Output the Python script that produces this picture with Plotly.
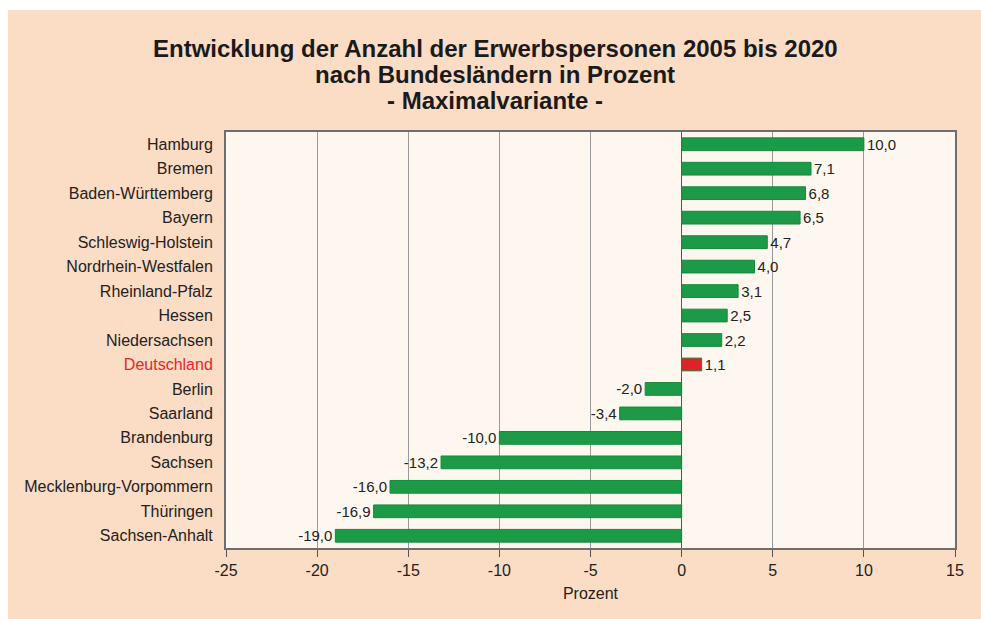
import plotly.graph_objects as go

laender = ["Hamburg", "Bremen", "Baden-Württemberg", "Bayern", "Schleswig-Holstein",
           "Nordrhein-Westfalen", "Rheinland-Pfalz", "Hessen", "Niedersachsen",
           "Deutschland", "Berlin", "Saarland", "Brandenburg", "Sachsen",
           "Mecklenburg-Vorpommern", "Thüringen", "Sachsen-Anhalt"]
werte = [10.0, 7.1, 6.8, 6.5, 4.7, 4.0, 3.1, 2.5, 2.2, 1.1, -2.0, -3.4, -10.0,
         -13.2, -16.0, -16.9, -19.0]
x_ticks = [-25, -20, -15, -10, -5, 0, 5, 10, 15]
title_lines = ["Entwicklung der Anzahl der Erwerbspersonen 2005 bis 2020",
               "nach Bundesländern in Prozent",
               "- Maximalvariante -"]

GREEN = "#1c9a48"
RED = "#e0202a"
colors = [RED if l == "Deutschland" else GREEN for l in laender]
ticktext = ["<span style='color:#e8262a'>%s</span>" % l if l == "Deutschland" else l
            for l in laender]

W, H = 981, 619
L, T = 226, 132
R = 981 - 955
B = 619 - 548
pw, ph = W - L - R, H - T - B
FONT = "Liberation Sans, Arial"


def px_x(px):
    return (px - L) / pw


def px_y(py):
    return (H - B - py) / ph


fig = go.Figure()
fig.add_trace(go.Bar(
    y=laender, x=werte, orientation="h",
    marker=dict(color=colors, line=dict(color="#138a3c", width=1)),
    texttemplate="%{x:.1f}",
    textposition="outside",
    constraintext="none",
    textfont=dict(size=15, color="#222222", family=FONT),
    cliponaxis=False,
    width=0.52,
))

shapes = [
    # white page margin at the top and the left of the peach sheet
    dict(type="rect", xref="paper", yref="paper",
         x0=px_x(-5), x1=px_x(W + 5), y0=px_y(10), y1=px_y(-5),
         fillcolor="white", line=dict(width=0), layer="below"),
    dict(type="rect", xref="paper", yref="paper",
         x0=px_x(-5), x1=px_x(8), y0=px_y(H + 5), y1=px_y(-5),
         fillcolor="white", line=dict(width=0), layer="below"),
]

annotations = []
for line, yy in zip(title_lines, [48, 74, 101]):
    annotations.append(dict(
        text="<b>%s</b>" % line, xref="paper", yref="paper",
        x=px_x(495), y=px_y(yy), xanchor="center", yanchor="middle",
        showarrow=False,
        font=dict(family=FONT, size=24, color="#1a1a1a"),
    ))

fig.update_layout(
    width=W, height=H,
    margin=dict(l=L, r=R, t=T, b=B, pad=0),
    paper_bgcolor="#fbdcc5",
    plot_bgcolor="#fdf7f0",
    separators=",.",
    font=dict(family=FONT, size=16, color="#222222"),
    showlegend=False,
    shapes=shapes,
    annotations=annotations,
    xaxis=dict(
        range=[-25, 15], tickvals=x_ticks, ticktext=[str(v) for v in x_ticks],
        showgrid=True, gridcolor="#9a9a9a", gridwidth=1,
        zeroline=True, zerolinecolor="#555555", zerolinewidth=1,
        showline=True, linecolor="#6e6e6e", linewidth=2, mirror=True,
        ticks="outside", ticklen=7, tickcolor="#555555", tickwidth=1,
        tickfont=dict(size=16),
        title=dict(text="Prozent", font=dict(size=16), standoff=10),
    ),
    yaxis=dict(
        categoryorder="array", categoryarray=laender, autorange="reversed",
        tickvals=laender, ticktext=ticktext,
        showline=True, linecolor="#6e6e6e", linewidth=2, mirror=True,
        showgrid=False, ticks="", ticklabelstandoff=8,
        tickfont=dict(size=16),
    ),
    bargap=0.48,
)

fig.write_html(
    "out.html",
    config={"displayModeBar": False},
    post_script="document.body.style.margin='0';"
                "document.body.style.overflow='hidden';",
)
